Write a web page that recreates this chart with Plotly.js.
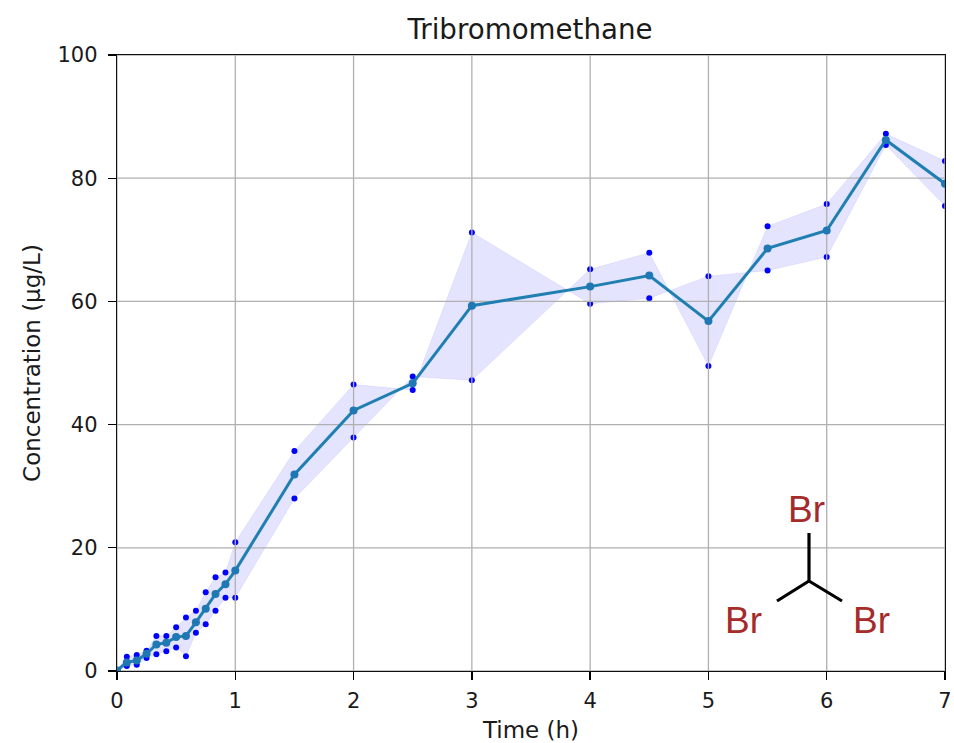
<!DOCTYPE html>
<html>
<head>
<meta charset="utf-8">
<script src="https://cdn.plot.ly/plotly-3.0.1.min.js"></script>
<style>html,body{margin:0;padding:0;background:#fff}#chart{width:954px;height:743px}</style>
</head>
<body>
<div id="chart"></div>
<script>
var times = [0,0.083,0.167,0.25,0.333,0.417,0.5,0.583,0.667,0.75,0.833,0.917,1,1.5,2,2.5,3,4,4.5,5,5.5,6,6.5,7];
var replicateA = [0.1,2.3,2.6,3.3,5.7,5.7,7.1,8.7,9.8,12.8,15.2,16.0,20.9,35.7,46.5,45.6,71.2,59.6,60.5,64.1,65.0,67.2,85.4,75.5];
var replicateB = [0.1,0.8,1.0,2.1,2.7,3.2,3.8,2.4,6.2,7.6,9.8,11.9,11.9,28.0,37.9,47.8,47.2,65.2,67.9,49.5,72.2,75.8,87.2,82.8];
var mean  = [0.1,1.4,1.7,2.8,4.3,4.6,5.5,5.7,7.9,10.1,12.5,14.1,16.3,31.9,42.3,46.7,59.3,62.4,64.2,56.8,68.6,71.5,86.2,79.1];
var xTicks = [0,1,2,3,4,5,6,7];
var yTicks = [0,20,40,60,80,100];
var titleText = "Tribromomethane";
var xLabel = "Time (h)";
var yLabel = "Concentration (µg/L)";
var moleculeLabels = ["Br","Br","Br"];

var FONT = "DejaVu Sans, sans-serif";
var TEXT = "#1a1a1a";
var W = 954, H = 743;
var L = 117, T = 55, PW = 828, PH = 616;

var gridX = [], gridY = [];
xTicks.forEach(function(t){gridX.push(t,t,null);gridY.push(0,100,null);});
yTicks.forEach(function(v){gridX.push(0,7,null);gridY.push(v,v,null);});

var traces = [
  {x:times,y:replicateA,mode:"lines",line:{color:"rgba(0,0,255,0.07)",width:1},hoverinfo:"skip",showlegend:false},
  {x:times,y:replicateB,mode:"lines",line:{color:"rgba(0,0,255,0.07)",width:1},fill:"tonexty",fillcolor:"rgba(0,0,255,0.105)",hoverinfo:"skip",showlegend:false},
  {x:times,y:replicateA,mode:"markers",marker:{color:"#0000ff",size:6},name:"replicate A",showlegend:false},
  {x:times,y:replicateB,mode:"markers",marker:{color:"#0000ff",size:6},name:"replicate B",showlegend:false},
  {x:gridX,y:gridY,mode:"lines",line:{color:"#b0b0b0",width:1.3},hoverinfo:"skip",showlegend:false},
  {x:times,y:mean,mode:"lines+markers",line:{color:"#1f7fb0",width:3},marker:{color:"#1f77b4",size:8},name:"mean",showlegend:false}
];

function seg(x0,y0,x1,y1){
  return {type:"line",xref:"paper",yref:"paper",x0:(x0-L)/PW,y0:1-(y0-T)/PH,x1:(x1-L)/PW,y1:1-(y1-T)/PH,line:{color:"#000000",width:3.2},layer:"above"};
}
function lab(text,x,y){
  return {text:text,xref:"paper",yref:"paper",x:(x-L)/PW,y:1-(y-T)/PH,xanchor:"center",yanchor:"middle",showarrow:false,
    font:{family:"Liberation Sans, Arial, sans-serif",size:37,color:"#a52a2a"}};
}
function axis(range,ticks,label,standoff,labelGap){
  return {range:range,tickmode:"array",tickvals:ticks,ticktext:ticks.map(String),ticks:"outside",ticklen:8,tickwidth:1.3,tickcolor:"#000",
    ticklabelstandoff:labelGap,
    showline:true,linecolor:"#111",linewidth:1.3,mirror:true,showgrid:false,zeroline:false,
    tickfont:{family:FONT,size:21,color:TEXT},
    title:{text:label,font:{family:FONT,size:23,color:TEXT},standoff:standoff}};
}

var layout = {
  width:W,height:H,
  margin:{l:L,r:W-L-PW,t:T,b:H-T-PH,pad:0},
  paper_bgcolor:"#ffffff",plot_bgcolor:"#ffffff",
  font:{family:FONT,color:TEXT,size:21},
  title:{text:titleText,font:{family:FONT,size:27.7,color:TEXT},x:530/W,xanchor:"center",y:1-29/H,yanchor:"middle"},
  xaxis:axis([0,7],xTicks,xLabel,11,2),
  yaxis:axis([0,100],yTicks,yLabel,10,6),
  shapes:[seg(809,533,809,581),seg(809,581,777,601),seg(809,581,842,601)],
  annotations:[lab(moleculeLabels[0],806,509),lab(moleculeLabels[1],743,620),lab(moleculeLabels[2],871,620)]
};
Plotly.newPlot("chart",traces,layout,{displayModeBar:false,staticPlot:true});
</script>
</body>
</html>
